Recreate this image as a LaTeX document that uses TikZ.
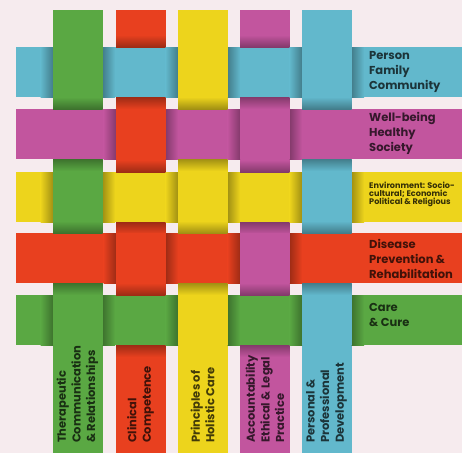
\documentclass[tikz,border=0pt]{standalone}
\usepackage{fontspec}
\setmainfont{Poppins}
\definecolor{bg}{HTML}{F6EBEE}
\definecolor{cB}{HTML}{62B8CC}
\definecolor{cM}{HTML}{C2559E}
\definecolor{cY}{HTML}{EDD41C}
\definecolor{cR}{HTML}{E8401F}
\definecolor{cG}{HTML}{5AA843}
\begin{document}
\begin{tikzpicture}[x=1pt,y=-1pt,
  lab/.style={text=#1!28!black, font=\bfseries\fontsize{11.5}{14.6}\selectfont, align=left, inner sep=0pt},
  labsmall/.style={text=#1!22!black, font=\bfseries\fontsize{8.1}{7.9}\selectfont, align=left, inner sep=0pt}]
\path[use as bounding box, fill=bg] (0,0) rectangle (462,453);
% vertical strips
\foreach \x/\c in {53/cG,116/cR,178/cY,240/cM,302/cB}
  \fill[\c] (\x,10) rectangle (\x+49.5,453);
% horizontal strips
\foreach \y/\c in {47/cB,109/cM,172/cY,233/cR,295/cG}
  \fill[\c] (16,\y) rectangle (462,\y+50);
% weave crossings and shadows
\foreach \y/\rc [count=\i] in {47/cB,109/cM,172/cY,233/cR,295/cG}{
  \foreach \x/\cc [count=\j] in {53/cG,116/cR,178/cY,240/cM,302/cB}{
    \pgfmathtruncatemacro\pp{mod(\i+\j,2)}
    \ifnum\pp=0
      \shade[left color=\rc, right color=\rc!68!black] (\x-12.5,\y) rectangle (\x,\y+50);
      \shade[left color=\rc!68!black, right color=\rc] (\x+49.5,\y) rectangle (\x+62,\y+50);
      \fill[\cc] (\x,\y) rectangle (\x+49.5,\y+50);
    \else
      \shade[top color=\cc, bottom color=\cc!68!black] (\x,\y-12) rectangle (\x+49.5,\y);
      \shade[top color=\cc!68!black, bottom color=\cc] (\x,\y+50) rectangle (\x+49.5,\y+62);
    \fi
  }
}
% row labels
\node[lab=cB, anchor=west] (t1) at (369,72) {Person\\Family\\Community};
\node[lab=cM, anchor=west] (t2) at (369,133.5) {Well-being\\Healthy\\Society};
\node[labsmall=cY, anchor=west] (t3) at (369,194.5) {Environment: Socio-\\cultural; Economic\\Political \& Religious};
\node[lab=cR, anchor=west] (t4) at (369,259) {Disease\\Prevention \&\\Rehabilitation};
\node[lab=cG, anchor=west] (t5) at (369,315) {Care\\\& Cure};
% column labels
\node[lab=cG, rotate=90, anchor=west] (v1) at (77.5,443) {Therapeutic\\Communication\\\& Relationships};
\node[lab=cR, rotate=90, anchor=west] (v2) at (140.5,443) {Clinical\\Competence};
\node[lab=cY, rotate=90, anchor=west] (v3) at (202.5,443) {Principles of\\Holistic Care};
\node[lab=cM, rotate=90, anchor=west] (v4) at (265,443) {Accountability\\Ethical \& Legal\\Practice};
\node[lab=cB, rotate=90, anchor=west] (v5) at (326.5,443) {Personal \&\\Professional\\Development};
\end{tikzpicture}
\end{document}
